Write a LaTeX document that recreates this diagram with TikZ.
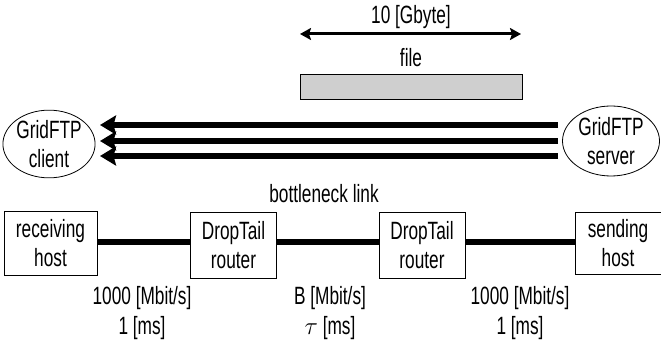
\documentclass[tikz,border=0pt]{standalone}
\usepackage{fontspec}
\setmainfont{Liberation Sans}[FakeStretch=0.69]
\usetikzlibrary{arrows.meta,shapes.geometric}
\begin{document}
\begin{tikzpicture}[x=1pt,y=-1pt,
  every node/.style={font=\fontsize{25}{29.5}\selectfont, inner sep=0pt, align=center},
  boxnode/.style={draw, line width=0.8pt, rectangle},
  endpt/.style={draw, line width=0.8pt, ellipse},
  link/.style={line width=6pt},
  flow/.style={line width=6pt, -{Stealth[length=16pt,width=19pt,inset=2.5pt]}},
  sizearrow/.style={line width=3pt, {Stealth[length=11pt,width=12pt,inset=2pt]}-{Stealth[length=11pt,width=12pt,inset=2pt]}},
  lbl/.style={anchor=base}
]
\useasboundingbox (0,0) rectangle (661,347);

% file size
\node[lbl] (gb) at (411,24) {10 [Gbyte]};
\coordinate (dl) at (300,34);
\coordinate (dr) at (521,34);
\draw[sizearrow] (dl) -- (dr);
\node[lbl] (filelbl) at (411,67) {file};
\node[draw, line width=0.8pt, fill=black!19, minimum width=222pt, minimum height=25pt] (file) at (411,86.5) {};

% GridFTP endpoints
\node[endpt, minimum width=88pt, minimum height=62pt] (client) at (49,144) {GridFTP\\client};
\node[endpt, minimum width=97pt, minimum height=70pt] (server) at (611,141) {GridFTP\\server};

% data flows
\coordinate (s1) at (558,125); \coordinate (c1) at (100,125);
\coordinate (s2) at (558,141); \coordinate (c2) at (100,141);
\coordinate (s3) at (558,156); \coordinate (c3) at (100,156);
\draw[flow] (s1) -- (c1);
\draw[flow] (s2) -- (c2);
\draw[flow] (s3) -- (c3);

% network
\node (bn) at (324,203) [lbl] {bottleneck link};
\node[boxnode, minimum width=93pt, minimum height=64pt] (recv) at (50.5,243) {receiving\\host};
\node[boxnode, minimum width=86pt, minimum height=66pt] (r1) at (233.5,245) {DropTail\\router};
\node[boxnode, minimum width=86pt, minimum height=66pt] (r2) at (422,245) {DropTail\\router};
\node[boxnode, minimum width=86pt, minimum height=62pt] (send) at (618,243) {sending\\host};
\coordinate (ly) at (0,242);
\draw[link] (recv.east |- ly) -- (r1.west |- ly);
\draw[link] (r1.east |- ly) -- (r2.west |- ly);
\draw[link] (r2.east |- ly) -- (send.west |- ly);

% link parameters
\node (p1) at (142,313) {1000 [Mbit/s]\\1 [ms]};
\node (p2) at (330,313) {B [Mbit/s]\\$\tau$ [ms]};
\node (p3) at (520,313) {1000 [Mbit/s]\\1 [ms]};
\end{tikzpicture}
\end{document}
